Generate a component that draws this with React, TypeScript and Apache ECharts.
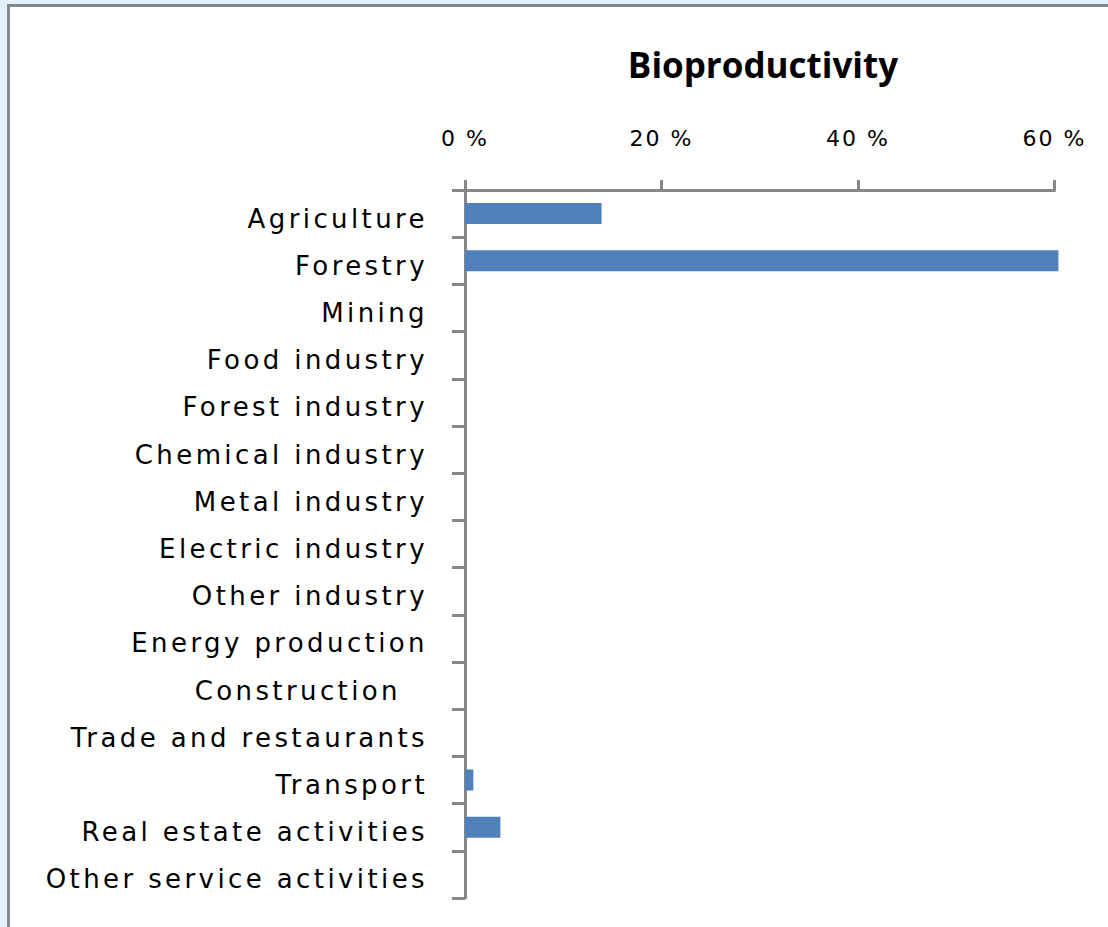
import React, { useEffect, useRef } from 'react';
import * as echarts from 'echarts';

const categories = [
  'Agriculture',
  'Forestry',
  'Mining',
  'Food industry',
  'Forest industry',
  'Chemical industry',
  'Metal industry',
  'Electric industry',
  'Other industry',
  'Energy production',
  'Construction',
  'Trade and restaurants',
  'Transport',
  'Real estate activities',
  'Other service activities',
];

const values = [13.9, 60.4, 0, 0, 0, 0, 0, 0, 0, 0, 0, 0, 0.85, 3.6, 0];

const xTickMin = 0;
const xTickMax = 60;
const xTickStep = 20;

const titleText = 'Bioproductivity';

export default function App() {
  const ref = useRef<HTMLDivElement>(null);

  useEffect(() => {
    if (!ref.current) return;
    const chart = echarts.init(ref.current, undefined, { renderer: 'svg' });
    const axisColor = '#878787';
    chart.setOption({
      animation: false,
      backgroundColor: '#e2f1fc',
      title: {
        text: titleText,
        left: 758,
        top: 42,
        textAlign: 'center',
        textStyle: {
          fontFamily: 'Open Sans',
          fontWeight: 'bold',
          fontSize: 35,
          color: '#000',
        },
      },
      graphic: [
        {
          type: 'rect',
          z: -10,
          silent: true,
          shape: { x: 8.5, y: 5.5, width: 1200, height: 1000 },
          style: { fill: '#ffffff', stroke: axisColor, lineWidth: 3 },
        },
      ],
      grid: { left: 465, top: 190, right: 53.5, bottom: 29, containLabel: false },
      xAxis: {
        type: 'value',
        position: 'top',
        min: xTickMin,
        max: xTickMax,
        interval: xTickStep,
        splitLine: { show: false },
        axisLine: { show: true, lineStyle: { color: axisColor, width: 3 } },
        axisTick: { show: true, length: 10, lineStyle: { color: axisColor, width: 3 } },
        axisLabel: {
          formatter: (v: number) => `${v} %`,
          fontFamily: 'DejaVu Sans',
          fontSize: 22,
          color: '#000',
          margin: 41,
        },
      },
      yAxis: {
        type: 'category',
        inverse: true,
        data: categories,
        axisLine: { show: true, lineStyle: { color: axisColor, width: 3 } },
        axisTick: { show: true, length: 13, lineStyle: { color: axisColor, width: 3 } },
        axisLabel: {
          fontFamily: 'DejaVu Sans',
          fontSize: 26,
          color: '#000',
          margin: 37,
          padding: [10, 0, 0, 0],
          formatter: (v: string) => (v === 'Construction' ? `{pad|${v}}` : v),
          rich: {
            pad: {
              fontFamily: 'DejaVu Sans',
              fontSize: 26,
              color: '#000',
              padding: [0, 27, 0, 0],
            },
          },
        },
      },
      series: [
        {
          type: 'bar',
          data: values,
          barWidth: 21,
          clip: false,
          itemStyle: { color: '#4f81bd' },
        },
      ],
    });
    return () => chart.dispose();
  }, []);

  return (
    <>
      <style>{`
        .bp-chart text[style*="26px"] { letter-spacing: 3.4px; }
        .bp-chart text[style*="22px"] { letter-spacing: 2px; }
      `}</style>
      <div
        ref={ref}
        className="bp-chart"
        style={{ position: 'fixed', left: 0, top: 0, width: 1108, height: 927 }}
      />
    </>
  );
}
